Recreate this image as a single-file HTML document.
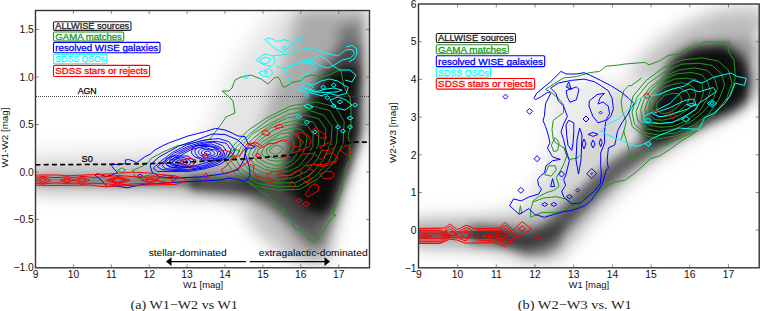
<!DOCTYPE html><html><head><meta charset="utf-8"><style>html,body{margin:0;padding:0;background:#fff;overflow:hidden}svg{display:block}</style></head><body><svg width="760" height="311" viewBox="0 0 760 311"><rect width="760" height="311" fill="#fff"/><defs><clipPath id="cl"><rect x="35.5" y="10.5" width="334.0" height="257.3"/></clipPath><clipPath id="cr"><rect x="418.5" y="4.0" width="340.70000000000005" height="263.8"/></clipPath><filter id="b1" x="-50%" y="-50%" width="200%" height="200%"><feGaussianBlur stdDeviation="1"/></filter><filter id="b2" x="-50%" y="-50%" width="200%" height="200%"><feGaussianBlur stdDeviation="2"/></filter><filter id="b3" x="-50%" y="-50%" width="200%" height="200%"><feGaussianBlur stdDeviation="3"/></filter><filter id="b4" x="-50%" y="-50%" width="200%" height="200%"><feGaussianBlur stdDeviation="4"/></filter><filter id="b5" x="-50%" y="-50%" width="200%" height="200%"><feGaussianBlur stdDeviation="5"/></filter><filter id="b6" x="-50%" y="-50%" width="200%" height="200%"><feGaussianBlur stdDeviation="6"/></filter><filter id="b7" x="-50%" y="-50%" width="200%" height="200%"><feGaussianBlur stdDeviation="7"/></filter><filter id="b8" x="-50%" y="-50%" width="200%" height="200%"><feGaussianBlur stdDeviation="8"/></filter><filter id="b9" x="-50%" y="-50%" width="200%" height="200%"><feGaussianBlur stdDeviation="9"/></filter><filter id="b10" x="-50%" y="-50%" width="200%" height="200%"><feGaussianBlur stdDeviation="10"/></filter><filter id="b11" x="-50%" y="-50%" width="200%" height="200%"><feGaussianBlur stdDeviation="11"/></filter><filter id="b12" x="-50%" y="-50%" width="200%" height="200%"><feGaussianBlur stdDeviation="12"/></filter><filter id="b13" x="-50%" y="-50%" width="200%" height="200%"><feGaussianBlur stdDeviation="13"/></filter><filter id="b14" x="-50%" y="-50%" width="200%" height="200%"><feGaussianBlur stdDeviation="14"/></filter><filter id="b15" x="-50%" y="-50%" width="200%" height="200%"><feGaussianBlur stdDeviation="15"/></filter></defs><g clip-path="url(#cl)"><polygon points="28,152 120,150 200,146 215,110 230,70 255,35 275,8 372,8 372,135 362,150 352,185 340,215 330,240 326,266 300,266 272,242 246,216 222,200 120,197 28,196" fill="#000" fill-opacity="0.1" filter="url(#b10)"/><polygon points="28,171 120,168 180,164 220,158 250,158 258,135 268,105 280,72 290,40 298,8 372,8 372,130 360,138 350,165 340,195 334,225 328,262 305,262 295,236 275,212 255,197 220,196 150,191 28,189" fill="#000" fill-opacity="0.26" filter="url(#b8)"/><polygon points="190,178 240,176 270,178 288,165 298,122 312,86 325,62 340,48 362,44 362,128 352,158 340,192 331,225 320,250 306,242 290,222 270,206 250,198 220,194 190,190" fill="#000" fill-opacity="0.42" filter="url(#b6)"/><polygon points="28,176.5 120,176 200,176.5 200,187 120,187 28,185" fill="#000" fill-opacity="0.25" filter="url(#b2)"/><polygon points="250,200 290,212 305,240 300,262 280,255 262,240 245,218" fill="#000" fill-opacity="0.15" filter="url(#b7)"/><polygon points="235,176 290,170 310,190 315,232 295,222 270,205 245,192" fill="#000" fill-opacity="0.25" filter="url(#b6)"/><polygon points="190,177 262,176 262,193 190,189" fill="#000" fill-opacity="0.3" filter="url(#b3)"/><polygon points="328,72 358,66 358,135 348,165 338,190 332,208 320,218 305,208 284,186 286,160 293,135 310,105 322,82" fill="#000" fill-opacity="0.88" filter="url(#b6)"/><polygon points="338,28 360,22 360,85 338,85" fill="#000" fill-opacity="0.3" filter="url(#b6)"/><polygon points="364,8 372,8 372,268 350,268 356,190 362,150" fill="#fff" fill-opacity="0.35" filter="url(#b3)"/></g><g clip-path="url(#cr)"><polygon points="545,85 600,75 635,100 625,150 600,190 560,210 525,205 540,170 548,130" fill="#000" fill-opacity="0.07" filter="url(#b8)"/><polygon points="410,216 480,214 520,205 545,185 570,150 600,110 625,75 654,45 683,27 709,14 730,9 765,10 765,100 740,112 700,135 665,158 635,180 610,205 585,232 565,258 555,268 520,266 480,252 410,249" fill="#000" fill-opacity="0.1" filter="url(#b10)"/><polygon points="410,221 480,219 510,218 535,215 560,206 590,188 620,164 650,140 670,112 690,78 720,40 750,40 765,50 765,92 745,105 720,118 690,135 660,155 628,180 603,203 578,232 558,255 530,260 505,250 410,246" fill="#000" fill-opacity="0.25" filter="url(#b7)"/><path d="M405,233 L470,233.5 L505,237" fill="none" stroke="#000" stroke-width="18" stroke-linejoin="round" stroke-linecap="butt" stroke-opacity="0.36" filter="url(#b4)"/><path d="M470,234 L505,237 L528,241 L548,233 L565,218 L582,200 L598,184 L615,169 L633,156 L657,140 L680,124 L700,108 L720,90" fill="none" stroke="#000" stroke-width="18" stroke-linejoin="round" stroke-linecap="butt" stroke-opacity="0.5" filter="url(#b5)"/><polygon points="495,232 530,232 550,228 565,222 560,245 545,255 525,255 505,247 495,242" fill="#000" fill-opacity="0.3" filter="url(#b4)"/><polygon points="630,72 660,42 690,22 720,10 765,6 765,60 720,45 680,55 650,80" fill="#000" fill-opacity="0.18" filter="url(#b9)"/><polygon points="672,58 695,45 725,44 745,58 752,80 748,100 732,112 712,120 690,130 665,140 645,142 640,128 650,105 662,80" fill="#000" fill-opacity="0.92" filter="url(#b6)"/><polygon points="753,30 765,30 765,160 745,160" fill="#fff" fill-opacity="0.3" filter="url(#b3)"/></g><line x1="36" y1="96.5" x2="369.5" y2="96.5" stroke="#444" stroke-width="1" stroke-dasharray="1,1"/><g clip-path="url(#cl)"><polygon points="132.6,170.3 139.4,167.6 147.5,163.5 151.5,158.1 163.0,152.0 177.0,146.0 192.0,143.0 210.0,139.0 222.0,123.0 226.0,117.0 235.0,113.0 233.0,101.0 227.0,95.0 222.0,91.0 229.0,91.0 232.0,88.0 235.0,80.0 241.0,77.0 251.0,75.0 261.0,79.0 268.0,84.0 274.0,78.0 278.0,77.0 280.0,80.0 283.0,87.0 285.0,87.0 293.0,82.0 300.0,81.0 305.0,77.0 311.0,75.0 322.0,77.0 329.0,75.0 337.0,71.0 341.0,70.0 342.0,77.0 344.0,86.0 346.0,91.0 350.0,97.0 351.0,110.0 351.0,125.0 348.0,136.0 350.0,143.0 350.0,160.0 348.0,162.0 346.0,167.0 344.0,178.0 342.0,190.0 339.0,197.0 335.0,208.0 333.0,215.0 336.0,215.0 329.0,222.0 324.0,231.0 318.0,239.0 315.0,243.0 307.0,238.0 301.0,231.0 294.0,228.0 293.0,224.0 289.0,218.0 283.0,215.0 285.0,212.0 283.0,209.0 274.0,202.0 265.0,194.0 256.0,188.0 245.0,180.0 234.0,179.0 229.0,180.0 203.0,177.0 179.0,178.0 160.0,178.0 151.5,175.0 146.0,175.7 139.4,179.0 135.3,177.0" fill="none" stroke="#1f961f" stroke-width="1.0" stroke-linejoin="miter"/><polygon points="225.6,161.1 232.8,146.2 248.2,130.3 267.2,117.5 291.6,105.6 316.8,102.0 335.5,107.0 344.2,121.4 343.2,142.6 334.0,162.4 318.3,178.3 300.4,189.1 277.7,190.2 255.6,186.0 236.4,175.6" fill="none" stroke="#1f961f" stroke-width="0.95" stroke-linejoin="miter"/><polygon points="230.8,160.7 236.6,146.8 250.3,133.4 269.2,119.3 289.9,109.5 313.1,106.2 329.8,110.6 337.8,124.3 336.6,142.9 328.8,161.6 314.4,177.1 298.3,186.3 278.0,186.8 257.4,183.5 240.2,172.9" fill="none" stroke="#1f961f" stroke-width="0.95" stroke-linejoin="miter"/><polygon points="235.2,158.6 241.1,146.8 252.5,133.7 269.8,123.7 288.3,114.4 308.5,110.1 323.9,115.2 332.2,126.3 330.9,142.7 323.7,159.6 310.9,174.5 295.5,182.8 277.2,182.9 258.8,178.8 242.5,170.4" fill="none" stroke="#1f961f" stroke-width="0.95" stroke-linejoin="miter"/><polygon points="239.4,157.5 243.6,147.7 255.0,136.9 270.5,125.7 287.3,117.9 305.2,115.1 318.9,118.8 326.1,129.6 324.5,144.5 317.7,158.4 307.2,171.2 293.3,177.7 277.1,180.1 259.6,176.5 246.7,167.5" fill="none" stroke="#1f961f" stroke-width="0.95" stroke-linejoin="miter"/><polygon points="243.8,157.0 248.4,147.2 258.1,138.2 269.8,128.2 286.2,122.6 300.8,119.2 313.5,122.2 318.9,131.8 318.3,145.0 312.4,157.5 303.0,167.8 291.1,175.3 276.6,175.8 262.7,172.6 249.5,165.9" fill="none" stroke="#1f961f" stroke-width="0.95" stroke-linejoin="miter"/><polygon points="248.4,155.4 251.6,147.5 260.7,139.5 271.7,131.3 284.1,126.0 298.2,123.5 307.6,125.7 313.0,134.1 312.9,146.1 306.9,156.2 299.1,166.2 289.2,171.2 276.1,172.2 264.5,169.4 253.3,163.6" fill="none" stroke="#1f961f" stroke-width="0.95" stroke-linejoin="miter"/><polygon points="252.3,154.9 256.4,147.6 261.8,142.0 272.4,135.6 282.7,130.5 294.5,127.5 303.0,130.8 307.0,137.2 305.9,146.1 301.7,154.8 294.9,163.0 287.0,167.2 277.0,169.2 266.5,167.2 257.7,161.6" fill="none" stroke="#1f961f" stroke-width="0.95" stroke-linejoin="miter"/><polygon points="256.1,154.5 258.9,148.2 265.3,143.0 272.3,138.5 281.5,133.5 289.8,132.8 297.2,134.5 300.3,139.2 300.2,147.5 296.3,154.9 291.6,161.2 284.8,163.6 276.3,165.8 266.9,163.0 260.2,159.3" fill="none" stroke="#1f961f" stroke-width="0.95" stroke-linejoin="miter"/><polygon points="261.2,153.0 263.7,148.1 266.7,144.1 272.4,140.1 280.5,138.2 285.8,136.6 291.5,137.7 294.1,142.4 294.2,147.5 291.0,153.1 286.4,158.2 282.3,160.7 275.2,161.0 269.2,160.2 264.5,156.8" fill="none" stroke="#1f961f" stroke-width="0.95" stroke-linejoin="miter"/><polygon points="266.2,152.3 266.9,149.0 269.9,146.7 273.5,144.0 278.2,141.2 282.8,141.2 285.7,141.7 288.0,145.3 288.6,148.3 286.8,152.7 282.8,155.5 279.1,157.9 275.8,158.4 271.7,157.1 268.0,154.9" fill="none" stroke="#1f961f" stroke-width="0.95" stroke-linejoin="miter"/><polygon points="269.5,151.2 270.0,149.0 272.7,147.4 273.6,146.1 277.3,145.1 278.3,145.7 280.4,146.3 282.2,147.7 282.5,149.3 281.4,150.5 279.7,152.9 277.8,153.3 275.7,154.8 272.3,153.3 271.2,153.0" fill="none" stroke="#1f961f" stroke-width="0.95" stroke-linejoin="miter"/><polygon points="228.0,157.0 236.0,156.0 240.0,151.0 234.0,149.0" fill="none" stroke="#1f961f" stroke-width="1.0" stroke-linejoin="miter"/><polygon points="117.8,170.3 121.8,167.8 125.8,170.3 121.8,172.8" fill="none" stroke="#1f961f" stroke-width="1.0" stroke-linejoin="miter"/><polygon points="94.8,175.0 97.5,173.6 101.5,175.0 106.0,176.5 112.0,175.0 117.7,172.3 113.7,168.9 111.6,165.5 113.0,164.2 119.0,164.9 125.8,163.5 125.2,160.1 128.5,159.5 132.6,160.8 136.6,162.8 139.4,160.8 144.8,156.8 150.2,154.1 155.0,150.0 163.0,145.5 170.0,142.5 188.0,136.0 205.6,131.5 215.5,128.4 225.0,130.0 231.0,132.5 238.0,136.0 245.0,136.6 248.0,143.8 255.4,146.7 252.5,148.2 246.7,148.2 245.3,154.0 248.0,162.6 249.6,168.4 250.0,176.0 246.0,181.0 229.0,178.0 220.0,180.0 203.0,181.0 179.0,182.0 160.0,183.4 151.5,183.8 142.0,184.5 132.6,186.5 127.2,187.8 115.0,185.8 107.6,186.5 105.6,185.1 101.5,180.4" fill="none" stroke="#0000ff" stroke-width="1.0" stroke-linejoin="miter"/><polygon points="150.0,165.0 159.3,156.8 178.6,146.2 197.9,139.5 212.0,134.0 225.0,134.5 238.0,140.0 246.0,148.0 244.0,160.0 238.0,170.0 222.0,174.0 200.0,177.0 175.0,178.0 160.0,177.0 152.0,172.0" fill="none" stroke="#0000ff" stroke-width="1.0" stroke-linejoin="miter"/><polygon points="153.1,168.3 160.4,161.5 172.3,152.5 186.4,145.0 203.5,140.2 218.5,138.5 229.0,141.7 235.1,150.1 230.4,157.7 219.7,164.5 205.3,168.6 188.4,171.6 170.1,171.6 157.4,171.4" fill="none" stroke="#0000ff" stroke-width="0.95" stroke-linejoin="miter"/><polygon points="157.2,166.6 164.4,161.0 174.3,153.1 188.1,146.4 202.1,142.2 216.2,141.4 226.4,143.3 231.1,150.3 227.3,157.4 217.6,163.4 203.7,168.0 188.8,170.3 173.2,170.5 161.8,169.6" fill="none" stroke="#0000ff" stroke-width="0.95" stroke-linejoin="miter"/><polygon points="162.2,165.3 168.2,159.6 177.5,153.4 188.6,147.7 201.8,143.5 213.4,142.1 222.4,145.5 227.2,151.7 224.9,158.3 215.4,162.4 203.6,166.9 189.5,169.3 176.0,169.4 165.4,168.7" fill="none" stroke="#0000ff" stroke-width="0.95" stroke-linejoin="miter"/><polygon points="166.0,164.5 171.5,160.3 179.6,154.0 190.4,148.4 201.3,144.7 211.5,144.0 219.9,147.1 223.5,151.6 221.7,157.7 213.3,161.6 203.0,165.8 190.9,167.4 177.9,168.0 169.4,166.8" fill="none" stroke="#0000ff" stroke-width="0.95" stroke-linejoin="miter"/><polygon points="171.4,163.2 175.5,159.9 182.6,154.3 190.9,149.7 200.6,147.2 209.8,146.1 217.2,148.4 220.8,152.7 217.8,157.9 211.2,160.9 202.1,163.8 191.9,166.6 181.8,166.2 174.0,165.2" fill="none" stroke="#0000ff" stroke-width="0.95" stroke-linejoin="miter"/><polygon points="194.7,162.5 192.6,165.5 187.1,167.4 180.5,168.2 172.6,167.6 167.0,165.2 164.7,162.3 166.6,158.5 172.0,156.1 179.9,155.9 187.4,156.0 192.7,159.2" fill="none" stroke="#0000ff" stroke-width="0.95" stroke-linejoin="miter"/><polygon points="190.8,162.1 189.6,164.6 185.5,166.4 180.0,167.0 174.8,166.3 169.9,164.0 169.2,162.0 170.0,160.0 174.5,158.0 180.4,156.9 185.5,158.2 189.4,159.8" fill="none" stroke="#0000ff" stroke-width="0.95" stroke-linejoin="miter"/><polygon points="187.1,162.2 186.7,164.1 184.1,164.8 179.7,164.9 176.3,164.8 173.1,164.0 172.5,162.2 173.2,160.1 175.8,159.0 179.8,158.7 183.6,159.5 186.9,160.1" fill="none" stroke="#0000ff" stroke-width="0.95" stroke-linejoin="miter"/><polygon points="183.6,161.7 183.4,163.3 181.6,163.7 179.8,163.1 178.4,163.2 176.4,162.7 176.0,161.9 176.7,161.1 178.2,160.4 179.6,160.0 181.5,160.6 183.1,161.5" fill="none" stroke="#0000ff" stroke-width="0.95" stroke-linejoin="miter"/><polygon points="224.6,152.9 223.8,157.4 218.8,159.9 211.8,160.6 202.6,160.0 194.8,156.9 191.5,153.0 192.1,148.7 196.5,145.7 204.6,145.4 213.5,146.3 220.6,149.2" fill="none" stroke="#0000ff" stroke-width="0.95" stroke-linejoin="miter"/><polygon points="220.9,152.8 221.1,156.4 216.9,158.1 210.5,159.1 203.5,158.9 197.5,156.6 195.1,152.6 195.0,149.8 198.5,147.4 205.7,146.2 212.4,147.1 218.3,150.2" fill="none" stroke="#0000ff" stroke-width="0.95" stroke-linejoin="miter"/><polygon points="217.7,152.5 217.3,155.4 214.3,156.7 210.0,158.2 204.7,157.1 200.5,155.0 198.1,152.7 198.4,151.1 200.8,148.9 206.1,147.8 211.0,149.3 216.1,150.2" fill="none" stroke="#0000ff" stroke-width="0.95" stroke-linejoin="miter"/><polygon points="214.9,153.5 214.2,154.7 212.0,155.6 209.5,156.3 206.1,155.4 202.8,155.0 201.4,153.0 201.5,151.9 203.6,149.7 206.9,149.6 210.1,149.9 213.0,151.2" fill="none" stroke="#0000ff" stroke-width="0.95" stroke-linejoin="miter"/><polygon points="210.9,153.1 210.8,154.1 209.8,154.7 209.0,154.6 207.1,154.1 205.7,153.7 204.4,153.5 204.7,152.1 206.1,151.5 207.5,151.1 209.4,151.4 210.1,152.7" fill="none" stroke="#0000ff" stroke-width="0.95" stroke-linejoin="miter"/><polygon points="137.5,176.0 140.0,174.0 142.5,176.0 140.0,178.0" fill="none" stroke="#0000ff" stroke-width="1.0" stroke-linejoin="miter"/><polygon points="30.0,175.0 59.0,175.0 66.0,175.8 88.0,174.9 109.0,174.0 122.0,173.0 133.0,172.1 149.0,173.0 164.0,174.9 175.0,175.8 186.0,179.5 186.0,181.5 175.0,184.5 145.0,185.0 118.0,185.9 105.0,186.8 90.0,185.0 53.0,185.5 30.0,185.0" fill="none" stroke="#ff0000" stroke-width="1.0" stroke-linejoin="miter"/><polygon points="30.0,177.3 35.0,177.3 43.0,176.5 52.0,177.5 60.0,177.5 67.0,176.8 75.0,177.6 82.0,176.3 92.0,177.4 106.0,176.8 118.0,175.5 132.0,176.5 145.0,177.2 153.0,176.8 162.0,177.5 172.0,178.5 172.0,182.5 162.0,183.0 153.0,183.8 145.0,183.4 132.0,184.0 118.0,185.0 106.0,183.8 92.0,183.2 82.0,184.3 75.0,183.0 67.0,183.8 60.0,183.0 52.0,183.0 43.0,184.1 35.0,183.3 30.0,183.3" fill="none" stroke="#ff0000" stroke-width="1.0" stroke-linejoin="miter"/><polygon points="35.0,180.3 43.0,176.9 51.0,180.3 43.0,183.7" fill="none" stroke="#ff0000" stroke-width="1.0" stroke-linejoin="miter"/><polygon points="39.0,180.3 43.0,178.6 47.0,180.3 43.0,182.0" fill="none" stroke="#ff0000" stroke-width="1.0" stroke-linejoin="miter"/><polygon points="60.0,180.3 67.0,177.7 74.0,180.3 67.0,182.9" fill="none" stroke="#ff0000" stroke-width="1.0" stroke-linejoin="miter"/><polygon points="63.5,180.3 67.0,179.0 70.5,180.3 67.0,181.6" fill="none" stroke="#ff0000" stroke-width="1.0" stroke-linejoin="miter"/><polygon points="74.0,180.3 82.0,177.1 90.0,180.3 82.0,183.5" fill="none" stroke="#ff0000" stroke-width="1.0" stroke-linejoin="miter"/><polygon points="78.0,180.3 82.0,178.7 86.0,180.3 82.0,181.9" fill="none" stroke="#ff0000" stroke-width="1.0" stroke-linejoin="miter"/><polygon points="106.0,180.3 118.0,176.3 130.0,180.3 118.0,184.3" fill="none" stroke="#ff0000" stroke-width="1.0" stroke-linejoin="miter"/><polygon points="112.0,180.3 118.0,178.3 124.0,180.3 118.0,182.3" fill="none" stroke="#ff0000" stroke-width="1.0" stroke-linejoin="miter"/><polygon points="141.0,180.3 150.0,177.7 159.0,180.3 150.0,182.9" fill="none" stroke="#ff0000" stroke-width="1.0" stroke-linejoin="miter"/><polygon points="145.5,180.3 150.0,179.0 154.5,180.3 150.0,181.6" fill="none" stroke="#ff0000" stroke-width="1.0" stroke-linejoin="miter"/><polygon points="109.0,180.3 118.0,177.3 127.0,180.3 118.0,183.3" fill="none" stroke="#ff0000" stroke-width="1.0" stroke-linejoin="miter"/><polygon points="201.5,156.0 205.0,153.5 208.5,156.0 205.0,158.5" fill="none" stroke="#ff0000" stroke-width="1.0" stroke-linejoin="miter"/><polygon points="203.0,176.0 206.0,173.0 209.0,176.0 206.0,179.0" fill="none" stroke="#ff0000" stroke-width="1.0" stroke-linejoin="miter"/><polygon points="180.0,162.0 188.0,158.0 196.0,160.0 193.0,166.0 186.0,166.0" fill="none" stroke="#ff0000" stroke-width="1.0" stroke-linejoin="miter"/><polygon points="155.0,180.0 165.0,175.0 178.0,178.0 170.0,183.0" fill="none" stroke="#ff0000" stroke-width="1.0" stroke-linejoin="miter"/><polyline points="217.2,152.0 224.9,150.1 230.7,152.0 234.5,155.9 230.7,160.7 226.8,165.5 221.0,170.3 224.9,174.2 232.6,171.3 244.2,164.6 251.9,159.7" fill="none" stroke="#ff0000" stroke-width="1.0" stroke-linejoin="miter"/><polyline points="246.1,144.3 255.8,142.4 262.0,146.0" fill="none" stroke="#ff0000" stroke-width="1.0" stroke-linejoin="miter"/><polygon points="261.7,131.5 266.0,130.0 270.4,133.7 268.0,135.5 263.0,134.5" fill="none" stroke="#ff0000" stroke-width="1.0" stroke-linejoin="miter"/><polygon points="274.7,126.4 280.0,124.0 283.4,127.2 276.0,128.5" fill="none" stroke="#ff0000" stroke-width="1.0" stroke-linejoin="miter"/><polyline points="230.0,160.0 240.0,155.0 247.0,146.7 253.0,143.1 260.3,148.2 269.0,143.8 276.2,143.1 283.4,139.5 287.8,140.9 290.6,145.3 295.0,146.7 299.3,146.7 302.2,143.8 303.7,141.6 299.3,139.5 295.0,135.1 300.8,132.2 308.0,135.1 310.9,140.9 309.5,146.7 305.1,148.2 300.8,150.0 295.0,152.0 288.0,156.0 280.0,158.0" fill="none" stroke="#ff0000" stroke-width="1.0" stroke-linejoin="miter"/><polygon points="310.9,130.8 315.3,127.9 325.4,135.1 326.8,138.0 321.0,138.0" fill="none" stroke="#ff0000" stroke-width="1.0" stroke-linejoin="miter"/><polygon points="319.6,146.7 329.7,142.4 334.0,146.7 329.7,151.0 322.5,150.3" fill="none" stroke="#ff0000" stroke-width="1.0" stroke-linejoin="miter"/><polyline points="300.0,154.0 306.6,154.0 313.8,153.2 321.0,159.7 326.8,154.0 332.6,152.5 338.4,158.3 335.5,161.2 329.7,161.9 324.0,164.8 316.7,164.1 308.0,165.5 306.4,165.8 313.7,164.3 323.8,167.2 331.0,163.6 336.8,161.4" fill="none" stroke="#ff0000" stroke-width="1.0" stroke-linejoin="miter"/><polyline points="250.0,164.3 254.3,165.8 252.9,171.6 255.8,175.9 265.9,178.8 268.8,182.4 276.0,181.0 267.4,178.1 266.6,174.5 273.2,171.6 283.3,170.9 277.5,174.5 284.7,178.1 292.0,173.7 297.8,170.1 302.1,171.6 299.2,175.9 305.0,181.7 307.9,183.2 310.8,178.8 307.9,175.9 313.7,170.9 309.3,168.7 306.4,165.8" fill="none" stroke="#ff0000" stroke-width="1.0" stroke-linejoin="miter"/><polygon points="319.5,174.5 325.3,171.6 331.0,171.6 334.7,174.5 331.0,178.8 323.8,178.8" fill="none" stroke="#ff0000" stroke-width="1.0" stroke-linejoin="miter"/><polygon points="289.0,184.6 292.0,181.0 295.6,185.3 292.7,187.5" fill="none" stroke="#ff0000" stroke-width="1.0" stroke-linejoin="miter"/><polygon points="305.0,194.7 310.8,186.0 315.1,183.9 318.7,186.0 318.0,191.1 307.9,196.9" fill="none" stroke="#ff0000" stroke-width="1.0" stroke-linejoin="miter"/><polygon points="296.0,200.5 299.0,198.5 302.0,200.5 299.0,202.5" fill="none" stroke="#ff0000" stroke-width="1.0" stroke-linejoin="miter"/><polygon points="302.5,204.0 306.0,201.8 309.5,204.0 306.0,206.2" fill="none" stroke="#ff0000" stroke-width="1.0" stroke-linejoin="miter"/><polygon points="255.0,155.4 258.0,153.4 261.0,155.4 258.0,157.4" fill="none" stroke="#ff0000" stroke-width="1.0" stroke-linejoin="miter"/><polygon points="281.4,156.1 283.4,154.6 285.4,156.1 283.4,157.6" fill="none" stroke="#ff0000" stroke-width="1.0" stroke-linejoin="miter"/><polygon points="340.0,150.0 346.0,145.0 352.0,150.0 348.0,156.0" fill="none" stroke="#ff0000" stroke-width="1.0" stroke-linejoin="miter"/><polygon points="265.1,39.5 268.0,38.0 273.8,39.5 276.7,41.6 284.0,39.5 289.7,41.6 294.1,43.8 289.7,46.7 285.4,50.3 282.5,52.5 276.7,49.6 270.9,45.3" fill="none" stroke="#00ffff" stroke-width="1.0" stroke-linejoin="miter"/><polygon points="281.5,48.2 284.0,46.2 286.5,48.2 284.0,50.2" fill="none" stroke="#00ffff" stroke-width="1.0" stroke-linejoin="miter"/><polygon points="295.9,39.5 299.4,37.5 302.9,39.5 299.4,41.5" fill="none" stroke="#00ffff" stroke-width="1.0" stroke-linejoin="miter"/><polygon points="256.4,60.1 264.7,53.9 273.1,56.0 275.2,62.2 271.0,66.4 262.7,64.3" fill="none" stroke="#00ffff" stroke-width="1.0" stroke-linejoin="miter"/><polygon points="259.5,60.5 265.0,57.0 271.0,59.0 268.0,63.5 262.0,63.0" fill="none" stroke="#00ffff" stroke-width="1.0" stroke-linejoin="miter"/><polygon points="258.5,72.7 268.9,68.5 273.1,72.7 268.9,76.8 262.7,76.0" fill="none" stroke="#00ffff" stroke-width="1.0" stroke-linejoin="miter"/><polygon points="264.0,72.5 266.0,71.0 268.0,72.5 266.0,74.0" fill="none" stroke="#00ffff" stroke-width="1.0" stroke-linejoin="miter"/><polyline points="273.1,56.0 287.7,53.9 300.3,49.7 310.7,47.6 321.1,51.8 329.5,53.9 337.8,56.0 346.2,49.7 352.5,49.7 354.6,53.9 350.4,58.0 342.0,60.1 336.0,64.0 328.0,68.0 320.0,66.0 312.0,60.0 303.0,61.0 295.0,64.0 283.5,68.5 276.0,66.0" fill="none" stroke="#00ffff" stroke-width="1.0" stroke-linejoin="miter"/><polyline points="346.0,47.0 352.0,45.5 356.0,48.0 357.0,54.0 354.0,59.0 349.0,62.0" fill="none" stroke="#00ffff" stroke-width="1.0" stroke-linejoin="miter"/><polygon points="283.5,68.5 296.1,64.3 308.6,62.2 317.0,68.5 308.6,72.7 300.3,76.8 304.4,83.1 312.8,85.2 321.1,81.0 329.5,79.0 337.8,81.0 344.1,85.2 348.3,87.3 346.2,93.5 337.8,95.6 329.5,93.5 321.1,95.6 312.8,93.5 304.4,91.5 296.1,89.4 289.8,83.1 287.7,76.8" fill="none" stroke="#00ffff" stroke-width="1.0" stroke-linejoin="miter"/><polygon points="300.3,85.2 308.6,89.4 317.0,91.5 326.0,89.0 334.0,88.0 342.0,90.0 337.0,92.0 326.0,92.5 314.0,92.0 305.0,89.0" fill="none" stroke="#00ffff" stroke-width="1.0" stroke-linejoin="miter"/><polyline points="310.0,60.0 318.0,55.0 326.0,59.0 333.0,66.0 340.0,70.0 350.0,70.0 356.0,75.0 352.0,82.0 345.0,80.0" fill="none" stroke="#00ffff" stroke-width="1.0" stroke-linejoin="miter"/><polygon points="330.0,100.0 338.0,97.0 346.0,100.0 352.0,105.0 345.0,110.0 336.0,108.0" fill="none" stroke="#00ffff" stroke-width="1.0" stroke-linejoin="miter"/><polygon points="243.5,76.8 246.0,74.8 248.5,76.8 246.0,78.8" fill="none" stroke="#00ffff" stroke-width="1.0" stroke-linejoin="miter"/><polygon points="308.2,87.3 310.7,85.3 313.2,87.3 310.7,89.3" fill="none" stroke="#00ffff" stroke-width="1.0" stroke-linejoin="miter"/><polygon points="320.7,87.3 323.2,85.3 325.7,87.3 323.2,89.3" fill="none" stroke="#00ffff" stroke-width="1.0" stroke-linejoin="miter"/><polygon points="331.2,85.2 333.7,83.2 336.2,85.2 333.7,87.2" fill="none" stroke="#00ffff" stroke-width="1.0" stroke-linejoin="miter"/><polygon points="306.1,62.2 308.6,60.2 311.1,62.2 308.6,64.2" fill="none" stroke="#00ffff" stroke-width="1.0" stroke-linejoin="miter"/><polygon points="304.0,95.6 306.5,93.6 309.0,95.6 306.5,97.6" fill="none" stroke="#00ffff" stroke-width="1.0" stroke-linejoin="miter"/><polygon points="324.9,97.7 327.4,95.7 329.9,97.7 327.4,99.7" fill="none" stroke="#00ffff" stroke-width="1.0" stroke-linejoin="miter"/><polygon points="331.2,106.0 333.7,104.0 336.2,106.0 333.7,108.0" fill="none" stroke="#00ffff" stroke-width="1.0" stroke-linejoin="miter"/><polygon points="337.5,101.9 340.0,99.9 342.5,101.9 340.0,103.9" fill="none" stroke="#00ffff" stroke-width="1.0" stroke-linejoin="miter"/><polygon points="352.5,105.0 355.0,103.0 357.5,105.0 355.0,107.0" fill="none" stroke="#00ffff" stroke-width="1.0" stroke-linejoin="miter"/><polygon points="296.3,116.7 298.8,114.7 301.3,116.7 298.8,118.7" fill="none" stroke="#00ffff" stroke-width="1.0" stroke-linejoin="miter"/><polygon points="304.3,122.3 306.8,120.3 309.3,122.3 306.8,124.3" fill="none" stroke="#00ffff" stroke-width="1.0" stroke-linejoin="miter"/><polygon points="312.4,132.0 314.9,130.0 317.4,132.0 314.9,134.0" fill="none" stroke="#00ffff" stroke-width="1.0" stroke-linejoin="miter"/><polygon points="335.5,127.0 338.0,125.0 340.5,127.0 338.0,129.0" fill="none" stroke="#00ffff" stroke-width="1.0" stroke-linejoin="miter"/><polygon points="340.5,131.0 343.0,129.0 345.5,131.0 343.0,133.0" fill="none" stroke="#00ffff" stroke-width="1.0" stroke-linejoin="miter"/><polygon points="347.5,127.0 350.0,125.0 352.5,127.0 350.0,129.0" fill="none" stroke="#00ffff" stroke-width="1.0" stroke-linejoin="miter"/><polygon points="347.0,118.0 350.0,116.0 353.0,118.0 350.0,120.0" fill="none" stroke="#00ffff" stroke-width="1.0" stroke-linejoin="miter"/><polygon points="304.0,106.0 308.0,104.0 313.0,107.0 309.0,109.0" fill="none" stroke="#00ffff" stroke-width="1.0" stroke-linejoin="miter"/></g><g clip-path="url(#cr)"><polyline points="410.0,228.9 440.0,228.9 452.0,236.4 440.0,242.9 410.0,242.9" fill="none" stroke="#ff0000" stroke-width="0.85" stroke-linejoin="miter"/><polyline points="410.0,230.5 440.0,230.5 450.5,236.4 440.0,241.5 410.0,241.5" fill="none" stroke="#ff0000" stroke-width="0.85" stroke-linejoin="miter"/><polyline points="410.0,232.1 440.0,232.1 449.0,236.4 440.0,240.1 410.0,240.1" fill="none" stroke="#ff0000" stroke-width="0.85" stroke-linejoin="miter"/><polyline points="410.0,233.7 440.0,233.7 447.5,236.4 440.0,238.7 410.0,238.7" fill="none" stroke="#ff0000" stroke-width="0.85" stroke-linejoin="miter"/><polyline points="410.0,235.3 440.0,235.3 446.0,236.4 440.0,237.3 410.0,237.3" fill="none" stroke="#ff0000" stroke-width="0.85" stroke-linejoin="miter"/><polygon points="419.5,236.4 425.5,234.4 431.5,236.4 425.5,238.4" fill="none" stroke="#ff0000" stroke-width="0.85" stroke-linejoin="miter"/><polygon points="423.0,236.4 425.5,235.4 428.0,236.4 425.5,237.4" fill="none" stroke="#ff0000" stroke-width="0.85" stroke-linejoin="miter"/><rect x="418" y="231" width="24" height="10" fill="#ff0000" fill-opacity="0.08" filter="url(#b2)"/><polyline points="410.0,228.6 445.0,228.0 449.5,224.0 457.4,229.6 466.4,225.1 475.0,228.8 498.8,228.1 505.3,222.3 513.3,230.3 522.0,221.6 531.4,228.8 523.4,234.6 514.7,238.9 505.3,246.9 498.8,244.0 491.6,242.6 475.0,243.0 465.2,243.1 457.0,240.0 449.5,239.2 440.0,243.5 410.0,243.5" fill="none" stroke="#ff0000" stroke-width="1.0" stroke-linejoin="miter"/><polygon points="445.0,230.0 449.5,226.5 457.4,232.0 466.4,227.5 474.0,232.0 466.0,241.0 457.4,238.0 449.5,237.0" fill="none" stroke="#ff0000" stroke-width="1.0" stroke-linejoin="miter"/><polygon points="451.0,231.0 457.4,234.5 451.0,235.5" fill="none" stroke="#ff0000" stroke-width="1.0" stroke-linejoin="miter"/><polygon points="445.0,232.0 449.5,229.0 457.4,234.0 466.4,229.8 471.0,233.5 466.0,238.5 457.4,236.0 449.5,235.0" fill="none" stroke="#ff0000" stroke-width="1.0" stroke-linejoin="miter"/><polygon points="461.0,235.2 465.5,231.7 470.0,235.2 465.5,238.7" fill="none" stroke="#ff0000" stroke-width="1.0" stroke-linejoin="miter"/><polygon points="478.0,231.0 498.8,230.5 505.3,225.0 512.0,232.0 517.0,236.0 505.3,244.0 498.8,241.5 478.0,240.0" fill="none" stroke="#ff0000" stroke-width="1.0" stroke-linejoin="miter"/><polygon points="482.0,236.0 498.0,232.5 505.0,228.0 510.0,234.0 503.0,240.5 495.0,239.5" fill="none" stroke="#ff0000" stroke-width="1.0" stroke-linejoin="miter"/><polygon points="488.0,236.8 498.0,234.8 504.0,231.0 507.0,236.0 502.0,239.0" fill="none" stroke="#ff0000" stroke-width="1.0" stroke-linejoin="miter"/><polygon points="495.0,236.8 503.0,235.0 505.0,237.0 500.0,238.0" fill="none" stroke="#ff0000" stroke-width="1.0" stroke-linejoin="miter"/><polygon points="518.5,228.8 522.0,225.8 525.5,228.8 522.0,231.8" fill="none" stroke="#ff0000" stroke-width="1.0" stroke-linejoin="miter"/><polygon points="533.7,236.3 537.2,232.8 540.7,236.3 537.2,239.8" fill="none" stroke="#ff0000" stroke-width="1.0" stroke-linejoin="miter"/><polygon points="545.6,89.4 553.3,84.3 563.6,77.9 576.4,76.6 589.3,72.7 599.6,71.4 605.7,66.3 618.6,65.0 625.0,64.0 645.0,62.4 649.0,64.9 660.0,60.6 668.0,55.6 679.0,53.7 688.0,48.2 695.5,47.3 704.0,41.8 712.0,41.8 720.0,42.7 729.0,41.8 730.0,43.6 728.0,50.0 731.0,55.6 734.0,60.0 735.0,70.0 735.0,79.0 732.0,90.0 729.0,97.0 723.0,103.0 713.0,117.0 705.0,125.0 692.8,134.1 680.0,141.9 669.7,149.6 659.4,156.0 650.4,158.6 644.0,165.0 633.7,174.0 624.7,180.4 615.7,181.7 605.4,186.8 590.0,195.8 583.7,202.0 570.8,209.2 557.9,212.4 541.8,212.4 530.6,217.2 530.7,209.6 533.3,200.6 538.4,196.7 546.1,192.8 553.8,190.3 559.0,186.4 556.4,177.4 560.3,171.0 564.1,163.3 566.7,155.6 564.1,147.9 556.0,143.0 553.3,139.6 552.0,129.3 553.3,120.3 558.4,116.4 563.6,112.6 563.6,104.8 558.4,98.4 550.7,92.0" fill="none" stroke="#1f961f" stroke-width="1.0" stroke-linejoin="miter"/><polyline points="533.3,201.8 543.6,198.0 556.4,196.7 566.7,199.3 574.4,204.4 584.0,200.0" fill="none" stroke="#1f961f" stroke-width="1.0" stroke-linejoin="miter"/><polyline points="623.4,130.3 628.6,148.3 631.0,158.6 644.0,153.4 656.8,148.3 674.8,140.6 698.0,130.3" fill="none" stroke="#1f961f" stroke-width="1.0" stroke-linejoin="miter"/><polygon points="544.8,174.8 548.7,165.8 555.1,165.8 556.4,169.7 551.3,176.1" fill="none" stroke="#1f961f" stroke-width="1.0" stroke-linejoin="miter"/><polygon points="555.1,137.6 551.3,145.3 553.8,151.7 557.7,150.4 559.0,142.7 556.4,138.9" fill="none" stroke="#1f961f" stroke-width="1.0" stroke-linejoin="miter"/><polyline points="564.1,147.9 566.7,155.6 569.3,159.4 577.0,158.1 579.6,155.6" fill="none" stroke="#1f961f" stroke-width="1.0" stroke-linejoin="miter"/><polygon points="520.4,205.7 521.7,213.4 519.1,213.4" fill="none" stroke="#1f961f" stroke-width="1.0" stroke-linejoin="miter"/><polygon points="567.7,86.5 568.7,85.5 569.7,86.5 568.7,87.5" fill="none" stroke="#1f961f" stroke-width="1.0" stroke-linejoin="miter"/><polyline points="641.7,77.9 631.4,85.6 628.8,85.6 623.7,90.7 621.1,101.0 622.4,111.3 626.3,121.6 623.7,131.8 621.1,139.6" fill="none" stroke="#1f961f" stroke-width="1.0" stroke-linejoin="miter"/><polygon points="728.4,70.1 732.0,83.3 726.3,99.2 713.8,114.5 697.2,127.9 676.5,135.6 657.1,139.1 642.0,134.4 632.3,126.7 628.9,112.8 633.1,96.2 645.8,80.8 662.5,68.1 682.1,60.0 702.2,57.9 718.3,61.1" fill="none" stroke="#1f961f" stroke-width="1.0" stroke-linejoin="miter"/><polygon points="721.7,74.0 724.5,85.1 719.0,99.5 708.7,114.0 693.9,125.2 676.0,132.9 658.0,134.9 643.7,132.5 634.4,124.2 632.0,112.0 636.8,97.6 648.4,83.2 662.5,73.1 681.0,64.2 699.1,63.2 712.0,65.4" fill="none" stroke="#1f961f" stroke-width="1.0" stroke-linejoin="miter"/><polygon points="714.5,77.8 717.5,88.6 712.7,99.9 703.2,112.0 690.6,122.0 674.7,128.8 659.1,131.3 647.4,128.8 638.0,121.1 636.0,111.5 641.0,99.1 650.5,86.8 664.2,76.7 678.7,70.2 694.3,67.9 707.0,70.2" fill="none" stroke="#1f961f" stroke-width="1.0" stroke-linejoin="miter"/><polygon points="707.5,81.5 710.3,91.0 706.3,100.5 698.9,111.7 686.6,120.5 673.3,126.4 659.7,127.3 650.0,125.1 642.1,119.6 640.7,109.5 644.0,99.7 651.5,89.1 663.1,79.9 676.5,73.9 691.1,72.4 702.0,74.9" fill="none" stroke="#1f961f" stroke-width="1.0" stroke-linejoin="miter"/><polygon points="702.1,84.2 703.4,92.1 701.0,100.8 693.9,110.7 684.1,118.6 671.8,122.4 661.4,123.8 651.6,121.7 646.7,117.4 644.9,108.7 648.0,100.2 653.7,91.3 663.8,83.3 675.4,78.9 686.5,78.3 695.8,79.5" fill="none" stroke="#1f961f" stroke-width="1.0" stroke-linejoin="miter"/><polygon points="694.4,88.6 695.8,94.9 693.5,102.5 687.7,109.6 679.3,115.1 670.7,118.7 662.3,120.2 655.0,119.6 649.4,115.2 648.9,108.6 649.9,100.9 656.4,93.5 663.8,87.5 673.0,84.4 682.1,82.6 690.1,85.1" fill="none" stroke="#1f961f" stroke-width="1.0" stroke-linejoin="miter"/><polygon points="687.8,92.9 689.6,96.9 687.5,103.2 683.1,107.8 676.0,112.8 670.1,115.6 662.8,116.6 657.6,116.3 653.2,113.1 651.7,107.9 654.7,101.3 658.7,96.4 665.2,91.2 671.6,89.3 678.6,87.5 683.5,89.8" fill="none" stroke="#1f961f" stroke-width="1.0" stroke-linejoin="miter"/><polygon points="680.5,96.4 681.5,99.1 680.6,103.5 677.6,107.3 673.0,110.2 668.8,112.4 663.9,113.7 660.2,113.0 656.6,109.6 656.7,106.7 657.0,102.9 661.0,99.3 664.2,95.2 668.8,94.2 674.0,93.2 678.5,93.9" fill="none" stroke="#1f961f" stroke-width="1.0" stroke-linejoin="miter"/><polygon points="534.0,98.4 536.6,93.3 544.3,86.9 550.7,81.7 561.0,71.4 566.1,74.0 576.4,74.0 584.1,72.7 590.3,75.3 600.6,80.4 610.8,85.6 621.1,92.0 628.8,98.4 634.0,103.6 630.1,110.0 626.3,116.4 621.1,124.1 617.3,131.8 616.0,139.6 614.7,145.0 608.4,147.9 607.1,160.7 608.4,168.4 606.1,170.0 604.2,177.7 601.3,185.4 596.5,193.2 590.7,200.9 584.9,205.7 577.2,208.6 571.4,210.5 563.7,211.5 554.0,214.4 544.4,217.3 534.7,214.4 528.9,208.6 519.3,214.4 509.6,205.7 513.5,198.9 521.2,200.9 528.9,197.0 538.6,194.1 541.5,189.3 538.6,185.4 537.6,179.6 540.5,175.8 544.4,172.9 546.1,165.8 552.6,160.7 560.3,159.4 552.6,156.9 547.4,147.9 550.0,142.7 548.1,134.4 545.6,126.7 543.0,120.3 544.3,116.4 545.6,103.6 550.7,93.3 548.1,92.0 540.4,97.1 535.3,99.7" fill="none" stroke="#0000ff" stroke-width="1.0" stroke-linejoin="miter"/><polygon points="550.7,88.1 558.4,83.0 571.3,80.4 584.1,79.1 594.4,81.7 600.6,85.6 608.3,90.7 612.1,98.4 613.4,108.7 610.8,116.4 605.7,121.6 604.4,131.8 604.6,142.7 600.7,153.0 600.7,165.8 601.3,173.9 600.3,183.5 594.5,191.2 584.9,198.9 581.0,202.8 571.4,203.8 563.7,197.0 561.7,191.2 565.6,185.4 563.7,179.6 565.6,175.8 569.3,160.7 566.0,150.0 563.6,139.6 561.0,131.8 563.6,124.1 567.4,116.4 563.6,106.1 558.4,101.0 555.8,93.3" fill="none" stroke="#0000ff" stroke-width="1.0" stroke-linejoin="miter"/><polygon points="604.4,93.3 597.0,94.6 589.3,101.0 589.0,106.1 592.9,116.4 598.0,122.8 605.7,120.3 609.6,113.8 608.3,106.1 603.0,102.0 598.0,104.0 600.0,98.0" fill="none" stroke="#0000ff" stroke-width="1.0" stroke-linejoin="miter"/><polygon points="599.1,112.6 600.6,111.1 602.1,112.6 600.6,114.1" fill="none" stroke="#0000ff" stroke-width="1.0" stroke-linejoin="miter"/><polygon points="566.1,90.7 576.4,86.9 579.0,89.4 576.4,99.7 570.0,102.3 567.4,97.1" fill="none" stroke="#0000ff" stroke-width="1.0" stroke-linejoin="miter"/><polygon points="566.1,86.9 568.7,82.0 571.3,89.4" fill="none" stroke="#0000ff" stroke-width="1.0" stroke-linejoin="miter"/><polygon points="568.7,120.3 573.8,122.8 573.8,131.8 573.1,142.7 571.8,150.4 568.0,145.3 566.7,135.0 566.0,125.0" fill="none" stroke="#0000ff" stroke-width="1.0" stroke-linejoin="miter"/><polygon points="579.6,128.0 582.0,135.0 581.0,160.0 578.5,174.0 576.0,160.0 577.0,140.0" fill="none" stroke="#0000ff" stroke-width="1.0" stroke-linejoin="miter"/><polygon points="503.0,96.7 505.5,94.2 508.0,96.7 505.5,99.2" fill="none" stroke="#0000ff" stroke-width="1.0" stroke-linejoin="miter"/><polygon points="526.6,111.3 529.6,108.3 532.6,111.3 529.6,114.3" fill="none" stroke="#0000ff" stroke-width="1.0" stroke-linejoin="miter"/><polygon points="583.0,119.0 586.0,116.0 589.0,119.0 586.0,122.0" fill="none" stroke="#0000ff" stroke-width="1.0" stroke-linejoin="miter"/><polygon points="588.1,134.4 593.1,132.4 598.1,134.4 593.1,136.4" fill="none" stroke="#0000ff" stroke-width="1.0" stroke-linejoin="miter"/><polygon points="582.0,144.0 584.0,139.0 586.0,144.0 584.0,149.0" fill="none" stroke="#0000ff" stroke-width="1.0" stroke-linejoin="miter"/><polygon points="591.0,144.0 593.0,140.0 595.0,144.0 593.0,148.0" fill="none" stroke="#0000ff" stroke-width="1.0" stroke-linejoin="miter"/><polygon points="599.2,142.7 600.7,138.7 602.2,142.7 600.7,146.7" fill="none" stroke="#0000ff" stroke-width="1.0" stroke-linejoin="miter"/><polygon points="586.7,173.6 591.7,168.6 596.7,173.6 591.7,178.6" fill="none" stroke="#0000ff" stroke-width="1.0" stroke-linejoin="miter"/><polygon points="575.6,190.3 577.6,188.3 579.6,190.3 577.6,192.3" fill="none" stroke="#0000ff" stroke-width="1.0" stroke-linejoin="miter"/><polygon points="534.1,158.7 537.1,155.7 540.1,158.7 537.1,161.7" fill="none" stroke="#0000ff" stroke-width="1.0" stroke-linejoin="miter"/><polygon points="517.9,190.3 520.9,187.3 523.9,190.3 520.9,193.3" fill="none" stroke="#0000ff" stroke-width="1.0" stroke-linejoin="miter"/><polygon points="558.6,174.1 561.6,171.1 564.6,174.1 561.6,177.1" fill="none" stroke="#0000ff" stroke-width="1.0" stroke-linejoin="miter"/><polygon points="541.8,204.4 544.8,202.4 547.8,204.4 544.8,206.4" fill="none" stroke="#0000ff" stroke-width="1.0" stroke-linejoin="miter"/><polygon points="550.8,204.4 553.8,202.4 556.8,204.4 553.8,206.4" fill="none" stroke="#0000ff" stroke-width="1.0" stroke-linejoin="miter"/><polygon points="566.3,196.7 569.3,194.7 572.3,196.7 569.3,198.7" fill="none" stroke="#0000ff" stroke-width="1.0" stroke-linejoin="miter"/><polygon points="590.7,173.6 591.7,172.6 592.7,173.6 591.7,174.6" fill="none" stroke="#0000ff" stroke-width="1.0" stroke-linejoin="miter"/><polygon points="550.6,186.6 552.6,178.6 554.6,186.6" fill="none" stroke="#0000ff" stroke-width="1.0" stroke-linejoin="miter"/><polygon points="600.6,131.0 608.3,124.1 618.6,119.0 626.3,111.3 634.0,106.1 639.1,98.4 649.4,95.8 658.4,94.7 672.8,88.9 684.4,86.0 693.1,80.2 701.8,83.1 713.3,77.4 724.9,74.5 730.7,73.0 737.3,76.5 746.2,78.3 744.4,85.4 735.0,83.1 730.7,94.7 724.9,103.4 713.3,113.5 704.6,117.8 698.9,129.4 678.6,128.0 667.1,132.3 652.6,138.1 647.0,142.7 636.7,146.6 626.4,142.7 613.6,137.6" fill="none" stroke="#00ffff" stroke-width="1.0" stroke-linejoin="miter"/><polygon points="643.9,116.4 655.5,110.6 670.0,103.4 681.5,91.8 690.2,88.9 698.9,91.8 713.3,87.5 716.2,91.8 707.5,97.6 698.9,103.4 696.0,109.2 684.4,116.4 672.8,122.2 658.4,123.6 643.9,122.2" fill="none" stroke="#00ffff" stroke-width="1.0" stroke-linejoin="miter"/><polygon points="652.6,113.5 670.0,107.7 684.4,100.5 693.1,99.0 696.0,103.4 687.3,109.2 672.0,114.0 660.0,117.0" fill="none" stroke="#00ffff" stroke-width="1.0" stroke-linejoin="miter"/><polygon points="686.6,104.8 691.6,103.3 696.6,104.8 691.6,106.3" fill="none" stroke="#00ffff" stroke-width="1.0" stroke-linejoin="miter"/><polygon points="707.4,103.4 711.9,99.9 716.4,103.4 711.9,106.9" fill="none" stroke="#00ffff" stroke-width="1.0" stroke-linejoin="miter"/><polygon points="709.9,103.4 711.9,101.9 713.9,103.4 711.9,104.9" fill="none" stroke="#00ffff" stroke-width="1.0" stroke-linejoin="miter"/><polygon points="681.8,119.3 685.8,116.3 689.8,119.3 685.8,122.3" fill="none" stroke="#00ffff" stroke-width="1.0" stroke-linejoin="miter"/><polygon points="645.3,120.1 648.3,118.1 651.3,120.1 648.3,122.1" fill="none" stroke="#00ffff" stroke-width="1.0" stroke-linejoin="miter"/><polygon points="645.3,143.9 648.3,141.9 651.3,143.9 648.3,145.9" fill="none" stroke="#00ffff" stroke-width="1.0" stroke-linejoin="miter"/><polygon points="645.8,144.0 648.3,141.5 650.8,144.0 648.3,146.5" fill="none" stroke="#00ffff" stroke-width="1.0" stroke-linejoin="miter"/><polygon points="671.4,110.6 675.7,115.0 672.8,119.3 668.5,115.0" fill="none" stroke="#ff0000" stroke-width="1.0" stroke-linejoin="miter"/><polygon points="644.0,95.0 648.0,93.0 650.0,97.0 646.0,98.5" fill="none" stroke="#ff0000" stroke-width="1.0" stroke-linejoin="miter"/><polygon points="653.0,112.0 655.5,110.0 658.0,112.0 655.5,114.0" fill="none" stroke="#ff0000" stroke-width="1.0" stroke-linejoin="miter"/></g><polyline points="35.5,164.8 100,164.4 140,163.9 180,162.5 230,159.8 260,157.8 289,155.2 310,151.5 330,146.8 345,143.2 355,142.2 369.5,142" fill="none" stroke="#000" stroke-width="1.7" stroke-dasharray="5,3.2"/><text x="77.7" y="94" font-size="9.2" font-family="Liberation Sans, sans-serif" fill="#000" stroke="#000" stroke-width="0.25" textLength="19" lengthAdjust="spacingAndGlyphs">AGN</text><text x="81.6" y="162" font-size="9.2" font-family="Liberation Sans, sans-serif" fill="#000" stroke="#000" stroke-width="0.25" textLength="11.3" lengthAdjust="spacingAndGlyphs">S0</text><line x1="170" y1="261.6" x2="246" y2="261.6" stroke="#000" stroke-width="1.3"/><polygon points="166,261.6 171.5,257.2 171.5,266" fill="#000"/><line x1="249.7" y1="261.6" x2="326" y2="261.6" stroke="#000" stroke-width="1.3"/><polygon points="330,261.6 324.5,257.2 324.5,266" fill="#000"/><text x="148.7" y="255.5" font-size="9.6" font-family="Liberation Sans, sans-serif" fill="#000" textLength="78" lengthAdjust="spacingAndGlyphs">stellar-dominated</text><text x="258.7" y="255.5" font-size="9.6" font-family="Liberation Sans, sans-serif" fill="#000" textLength="108.9" lengthAdjust="spacingAndGlyphs">extragalactic-dominated</text><g stroke="#444" stroke-width="0.6"><line x1="73.4" y1="267.8" x2="73.4" y2="264.3"/><line x1="73.4" y1="10.5" x2="73.4" y2="14.0"/><line x1="111.3" y1="267.8" x2="111.3" y2="264.3"/><line x1="111.3" y1="10.5" x2="111.3" y2="14.0"/><line x1="149.2" y1="267.8" x2="149.2" y2="264.3"/><line x1="149.2" y1="10.5" x2="149.2" y2="14.0"/><line x1="187.1" y1="267.8" x2="187.1" y2="264.3"/><line x1="187.1" y1="10.5" x2="187.1" y2="14.0"/><line x1="225.0" y1="267.8" x2="225.0" y2="264.3"/><line x1="225.0" y1="10.5" x2="225.0" y2="14.0"/><line x1="262.9" y1="267.8" x2="262.9" y2="264.3"/><line x1="262.9" y1="10.5" x2="262.9" y2="14.0"/><line x1="300.8" y1="267.8" x2="300.8" y2="264.3"/><line x1="300.8" y1="10.5" x2="300.8" y2="14.0"/><line x1="338.7" y1="267.8" x2="338.7" y2="264.3"/><line x1="338.7" y1="10.5" x2="338.7" y2="14.0"/><line x1="35.5" y1="29.5" x2="39.0" y2="29.5"/><line x1="369.5" y1="29.5" x2="366.0" y2="29.5"/><line x1="35.5" y1="77.0" x2="39.0" y2="77.0"/><line x1="369.5" y1="77.0" x2="366.0" y2="77.0"/><line x1="35.5" y1="124.5" x2="39.0" y2="124.5"/><line x1="369.5" y1="124.5" x2="366.0" y2="124.5"/><line x1="35.5" y1="172.0" x2="39.0" y2="172.0"/><line x1="369.5" y1="172.0" x2="366.0" y2="172.0"/><line x1="35.5" y1="219.5" x2="39.0" y2="219.5"/><line x1="369.5" y1="219.5" x2="366.0" y2="219.5"/></g><rect x="35.5" y="10.5" width="334.0" height="257.3" fill="none" stroke="#333" stroke-width="1.4"/><g stroke="#444" stroke-width="0.6"><line x1="457.6" y1="267.8" x2="457.6" y2="264.3"/><line x1="457.6" y1="4.0" x2="457.6" y2="7.5"/><line x1="496.3" y1="267.8" x2="496.3" y2="264.3"/><line x1="496.3" y1="4.0" x2="496.3" y2="7.5"/><line x1="535.0" y1="267.8" x2="535.0" y2="264.3"/><line x1="535.0" y1="4.0" x2="535.0" y2="7.5"/><line x1="573.7" y1="267.8" x2="573.7" y2="264.3"/><line x1="573.7" y1="4.0" x2="573.7" y2="7.5"/><line x1="612.4" y1="267.8" x2="612.4" y2="264.3"/><line x1="612.4" y1="4.0" x2="612.4" y2="7.5"/><line x1="651.1" y1="267.8" x2="651.1" y2="264.3"/><line x1="651.1" y1="4.0" x2="651.1" y2="7.5"/><line x1="689.8" y1="267.8" x2="689.8" y2="264.3"/><line x1="689.8" y1="4.0" x2="689.8" y2="7.5"/><line x1="728.5" y1="267.8" x2="728.5" y2="264.3"/><line x1="728.5" y1="4.0" x2="728.5" y2="7.5"/><line x1="418.5" y1="41.7" x2="422.0" y2="41.7"/><line x1="759.2" y1="41.7" x2="755.7" y2="41.7"/><line x1="418.5" y1="79.4" x2="422.0" y2="79.4"/><line x1="759.2" y1="79.4" x2="755.7" y2="79.4"/><line x1="418.5" y1="117.1" x2="422.0" y2="117.1"/><line x1="759.2" y1="117.1" x2="755.7" y2="117.1"/><line x1="418.5" y1="154.8" x2="422.0" y2="154.8"/><line x1="759.2" y1="154.8" x2="755.7" y2="154.8"/><line x1="418.5" y1="192.5" x2="422.0" y2="192.5"/><line x1="759.2" y1="192.5" x2="755.7" y2="192.5"/><line x1="418.5" y1="230.2" x2="422.0" y2="230.2"/><line x1="759.2" y1="230.2" x2="755.7" y2="230.2"/></g><rect x="418.5" y="4.0" width="340.7" height="263.8" fill="none" stroke="#333" stroke-width="1.4"/><text x="35.5" y="278.3" font-size="10.3" font-family="Liberation Sans, sans-serif" text-anchor="middle" fill="#111">9</text><text x="418.9" y="278.3" font-size="10.3" font-family="Liberation Sans, sans-serif" text-anchor="middle" fill="#111">9</text><text x="73.4" y="278.3" font-size="10.3" font-family="Liberation Sans, sans-serif" text-anchor="middle" fill="#111">10</text><text x="457.6" y="278.3" font-size="10.3" font-family="Liberation Sans, sans-serif" text-anchor="middle" fill="#111">10</text><text x="111.3" y="278.3" font-size="10.3" font-family="Liberation Sans, sans-serif" text-anchor="middle" fill="#111">11</text><text x="496.3" y="278.3" font-size="10.3" font-family="Liberation Sans, sans-serif" text-anchor="middle" fill="#111">11</text><text x="149.2" y="278.3" font-size="10.3" font-family="Liberation Sans, sans-serif" text-anchor="middle" fill="#111">12</text><text x="535.0" y="278.3" font-size="10.3" font-family="Liberation Sans, sans-serif" text-anchor="middle" fill="#111">12</text><text x="187.1" y="278.3" font-size="10.3" font-family="Liberation Sans, sans-serif" text-anchor="middle" fill="#111">13</text><text x="573.7" y="278.3" font-size="10.3" font-family="Liberation Sans, sans-serif" text-anchor="middle" fill="#111">13</text><text x="225.0" y="278.3" font-size="10.3" font-family="Liberation Sans, sans-serif" text-anchor="middle" fill="#111">14</text><text x="612.4" y="278.3" font-size="10.3" font-family="Liberation Sans, sans-serif" text-anchor="middle" fill="#111">14</text><text x="262.9" y="278.3" font-size="10.3" font-family="Liberation Sans, sans-serif" text-anchor="middle" fill="#111">15</text><text x="651.1" y="278.3" font-size="10.3" font-family="Liberation Sans, sans-serif" text-anchor="middle" fill="#111">15</text><text x="300.8" y="278.3" font-size="10.3" font-family="Liberation Sans, sans-serif" text-anchor="middle" fill="#111">16</text><text x="689.8" y="278.3" font-size="10.3" font-family="Liberation Sans, sans-serif" text-anchor="middle" fill="#111">16</text><text x="338.7" y="278.3" font-size="10.3" font-family="Liberation Sans, sans-serif" text-anchor="middle" fill="#111">17</text><text x="728.5" y="278.3" font-size="10.3" font-family="Liberation Sans, sans-serif" text-anchor="middle" fill="#111">17</text><text x="33.8" y="33.2" font-size="10.3" font-family="Liberation Sans, sans-serif" text-anchor="end" fill="#111">1.5</text><text x="33.8" y="80.7" font-size="10.3" font-family="Liberation Sans, sans-serif" text-anchor="end" fill="#111">1.0</text><text x="33.8" y="128.2" font-size="10.3" font-family="Liberation Sans, sans-serif" text-anchor="end" fill="#111">0.5</text><text x="33.8" y="175.7" font-size="10.3" font-family="Liberation Sans, sans-serif" text-anchor="end" fill="#111">0.0</text><text x="33.8" y="223.2" font-size="10.3" font-family="Liberation Sans, sans-serif" text-anchor="end" fill="#111">−0.5</text><text x="33.8" y="270.7" font-size="10.3" font-family="Liberation Sans, sans-serif" text-anchor="end" fill="#111">−1.0</text><text x="416.5" y="271.6" font-size="10.3" font-family="Liberation Sans, sans-serif" text-anchor="end" fill="#111">−1</text><text x="416.5" y="233.9" font-size="10.3" font-family="Liberation Sans, sans-serif" text-anchor="end" fill="#111">0</text><text x="416.5" y="196.2" font-size="10.3" font-family="Liberation Sans, sans-serif" text-anchor="end" fill="#111">1</text><text x="416.5" y="158.5" font-size="10.3" font-family="Liberation Sans, sans-serif" text-anchor="end" fill="#111">2</text><text x="416.5" y="120.8" font-size="10.3" font-family="Liberation Sans, sans-serif" text-anchor="end" fill="#111">3</text><text x="416.5" y="83.1" font-size="10.3" font-family="Liberation Sans, sans-serif" text-anchor="end" fill="#111">4</text><text x="416.5" y="45.4" font-size="10.3" font-family="Liberation Sans, sans-serif" text-anchor="end" fill="#111">5</text><text x="416.5" y="7.7" font-size="10.3" font-family="Liberation Sans, sans-serif" text-anchor="end" fill="#111">6</text><text x="182.9" y="287.9" font-size="8.8" font-family="Liberation Sans, sans-serif" fill="#111" textLength="40.1" lengthAdjust="spacingAndGlyphs">W1 [mag]</text><text x="568.6" y="287.9" font-size="8.8" font-family="Liberation Sans, sans-serif" fill="#111" textLength="40.6" lengthAdjust="spacingAndGlyphs">W1 [mag]</text><text transform="translate(7.6,137.5) rotate(-90)" font-size="9" font-family="Liberation Sans, sans-serif" text-anchor="middle" fill="#111" textLength="60" lengthAdjust="spacingAndGlyphs">W1-W2 [mag]</text><text transform="translate(396.3,132.8) rotate(-90)" font-size="8.8" font-family="Liberation Sans, sans-serif" text-anchor="middle" fill="#111" textLength="60.5" lengthAdjust="spacingAndGlyphs">W2-W3 [mag]</text><text x="130.5" y="308.6" font-size="12.8" font-family="Liberation Serif, serif" fill="#222" textLength="107.4" lengthAdjust="spacingAndGlyphs">(a) W1−W2 vs W1</text><text x="517.7" y="308.6" font-size="12.8" font-family="Liberation Serif, serif" fill="#222" textLength="114.1" lengthAdjust="spacingAndGlyphs">(b) W2−W3 vs. W1</text><rect x="53.5" y="21.7" width="77.5" height="8.7" rx="1.2" fill="#fff" stroke="#222" stroke-width="1.1"/><text x="55.3" y="29.4" fill="#222" stroke="#222" stroke-width="0.3" font-size="9.5" font-family="Liberation Sans, sans-serif" textLength="73.9" lengthAdjust="spacingAndGlyphs">ALLWISE sources</text><rect x="53.5" y="32.0" width="70.2" height="9.0" rx="1.2" fill="#fff" stroke="#1f961f" stroke-width="1.1"/><text x="55.3" y="40.0" fill="#1f961f" stroke="#1f961f" stroke-width="0.3" font-size="9.5" font-family="Liberation Sans, sans-serif" textLength="66.6" lengthAdjust="spacingAndGlyphs">GAMA matches</text><rect x="53.5" y="42.4" width="106.5" height="10.4" rx="1.2" fill="#fff" stroke="#0000ff" stroke-width="1.1"/><text x="55.3" y="51.1" fill="#0000ff" stroke="#0000ff" stroke-width="0.3" font-size="9.5" font-family="Liberation Sans, sans-serif" textLength="102.9" lengthAdjust="spacingAndGlyphs">resolved WISE galaxies</text><rect x="53.5" y="54.3" width="53.4" height="9.4" rx="1.2" fill="#fff" stroke="#00ffff" stroke-width="1.1"/><text x="55.3" y="62.2" fill="#00ffff" stroke="#00ffff" stroke-width="0.3" font-size="9.5" font-family="Liberation Sans, sans-serif" textLength="49.8" lengthAdjust="spacingAndGlyphs">SDSS QSOs</text><rect x="53.5" y="65.4" width="96.1" height="11.1" rx="1.2" fill="#fff" stroke="#ff0000" stroke-width="1.1"/><text x="55.3" y="74.1" fill="#ff0000" stroke="#ff0000" stroke-width="0.3" font-size="9.5" font-family="Liberation Sans, sans-serif" textLength="92.5" lengthAdjust="spacingAndGlyphs">SDSS stars or rejects</text><rect x="436.3" y="33.5" width="79.2" height="9.0" rx="1.2" fill="#fff" stroke="#222" stroke-width="1.1"/><text x="438.1" y="41.3" fill="#222" stroke="#222" stroke-width="0.3" font-size="9.5" font-family="Liberation Sans, sans-serif" textLength="75.6" lengthAdjust="spacingAndGlyphs">ALLWISE sources</text><rect x="436.3" y="44.8" width="72" height="9.0" rx="1.2" fill="#fff" stroke="#1f961f" stroke-width="1.1"/><text x="438.1" y="52.7" fill="#1f961f" stroke="#1f961f" stroke-width="0.3" font-size="9.5" font-family="Liberation Sans, sans-serif" textLength="68.4" lengthAdjust="spacingAndGlyphs">GAMA matches</text><rect x="436.3" y="55.8" width="108.4" height="10.8" rx="1.2" fill="#fff" stroke="#0000ff" stroke-width="1.1"/><text x="438.1" y="64.6" fill="#0000ff" stroke="#0000ff" stroke-width="0.3" font-size="9.5" font-family="Liberation Sans, sans-serif" textLength="104.8" lengthAdjust="spacingAndGlyphs">resolved WISE galaxies</text><rect x="436.3" y="67.7" width="54.4" height="9.5" rx="1.2" fill="#fff" stroke="#00ffff" stroke-width="1.1"/><text x="438.1" y="75.5" fill="#00ffff" stroke="#00ffff" stroke-width="0.3" font-size="9.5" font-family="Liberation Sans, sans-serif" textLength="50.8" lengthAdjust="spacingAndGlyphs">SDSS QSOs</text><rect x="436.3" y="78.5" width="98.3" height="10.6" rx="1.2" fill="#fff" stroke="#ff0000" stroke-width="1.1"/><text x="438.1" y="87.2" fill="#ff0000" stroke="#ff0000" stroke-width="0.3" font-size="9.5" font-family="Liberation Sans, sans-serif" textLength="94.7" lengthAdjust="spacingAndGlyphs">SDSS stars or rejects</text></svg></body></html>
